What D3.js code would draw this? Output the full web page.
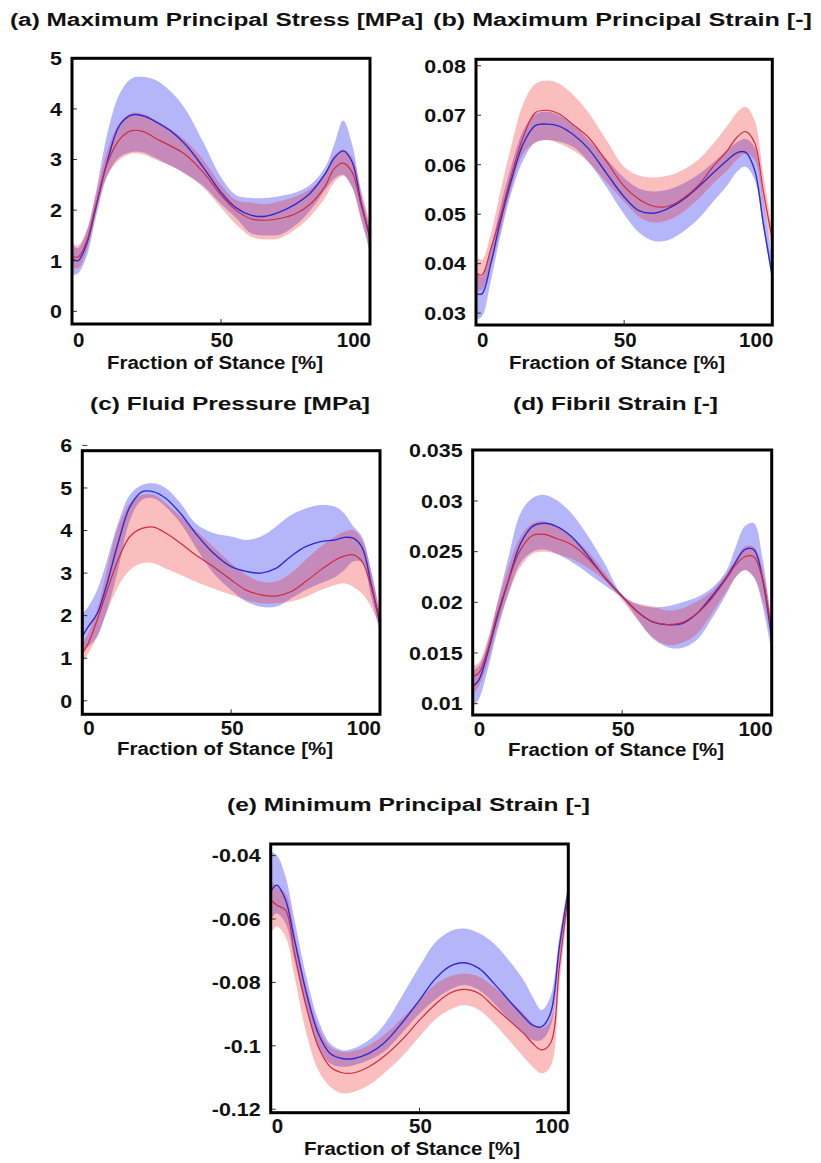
<!DOCTYPE html>
<html><head><meta charset="utf-8">
<script src="https://cdn.jsdelivr.net/npm/d3@7"></script>
<style>
body{margin:0;background:#fff}
svg{display:block}
text{font-family:"Liberation Sans",Arial,Helvetica,sans-serif;font-weight:bold;fill:#111}
</style>
</head><body>
<svg id="chart" width="821" height="1163"></svg>
<script>
// ---- shared x grid (fraction of stance, %) ----
const stance = [0,2,5,8,12,16,20,24,28,33,38,44,50,55,60,65,70,75,80,85,88,91,94,97,100];
const xTicks = [0,50,100];

// ---- (a) Maximum Principal Stress [MPa] ----
const aTicks = [0,1,2,3,4,5];
const aBlueMean  = [1.05,1.0,1.35,2.05,3.0,3.68,3.88,3.86,3.75,3.57,3.3,2.85,2.35,2.05,1.9,1.88,1.97,2.12,2.34,2.72,3.03,3.17,2.95,2.15,1.45];
const aBlueUpper = [1.3,1.25,1.6,2.35,3.55,4.3,4.6,4.63,4.57,4.35,4.0,3.35,2.65,2.3,2.24,2.24,2.28,2.35,2.5,2.85,3.3,3.77,3.3,2.35,1.65];
const aBlueLower = [0.72,0.75,1.1,1.85,2.7,3.05,3.15,3.14,3.03,2.88,2.72,2.48,2.12,1.85,1.55,1.5,1.52,1.7,2.0,2.4,2.62,2.7,2.45,1.85,1.15];
const aRedMean   = [1.1,1.07,1.4,2.1,2.95,3.4,3.57,3.55,3.42,3.27,3.1,2.75,2.3,2.0,1.83,1.8,1.84,1.93,2.12,2.48,2.82,2.93,2.75,2.1,1.5];
const aRedUpper  = [1.35,1.3,1.6,2.3,3.2,3.72,3.92,3.9,3.78,3.6,3.38,3.0,2.5,2.2,2.15,2.12,2.18,2.27,2.42,2.75,3.08,3.2,3.05,2.4,1.75];
const aRedLower  = [0.88,0.85,1.2,1.95,2.7,3.0,3.12,3.1,3.0,2.88,2.72,2.45,2.05,1.72,1.48,1.42,1.45,1.62,1.88,2.25,2.55,2.68,2.45,1.8,1.25];

// ---- (b) Maximum Principal Strain [-] ----
const bTicks = [0.03,0.04,0.05,0.06,0.07,0.08];
const bBlueMean  = [0.034,0.0339,0.04,0.048,0.057,0.0643,0.0679,0.0682,0.0678,0.066,0.0632,0.0583,0.0535,0.0507,0.0502,0.0512,0.053,0.0555,0.0583,0.061,0.0624,0.0625,0.059,0.048,0.0374];
const bBlueUpper = [0.0381,0.0374,0.043,0.051,0.060,0.067,0.0702,0.0707,0.07,0.068,0.065,0.0612,0.0573,0.0552,0.0546,0.055,0.0562,0.058,0.0604,0.063,0.0645,0.0652,0.0636,0.053,0.0408];
const bBlueLower = [0.0287,0.0293,0.0365,0.045,0.0545,0.061,0.0645,0.065,0.0647,0.0635,0.0605,0.0555,0.05,0.0463,0.0446,0.0448,0.0465,0.049,0.0525,0.056,0.0585,0.0596,0.057,0.047,0.0361];
const bRedMean   = [0.0381,0.0377,0.043,0.049,0.058,0.0657,0.0705,0.071,0.0703,0.068,0.0655,0.0607,0.0556,0.053,0.0516,0.0516,0.0532,0.0558,0.0596,0.063,0.0655,0.0667,0.0645,0.0545,0.0448];
const bRedUpper  = [0.0414,0.0408,0.046,0.054,0.064,0.0724,0.0763,0.077,0.0764,0.074,0.0705,0.065,0.0596,0.0578,0.0574,0.0578,0.059,0.061,0.0642,0.068,0.0705,0.0717,0.069,0.058,0.0468];
const bRedLower  = [0.0347,0.0347,0.0395,0.046,0.0555,0.0623,0.0645,0.065,0.0643,0.0628,0.0605,0.0565,0.0525,0.0495,0.0483,0.0488,0.0505,0.053,0.0562,0.059,0.061,0.0622,0.061,0.052,0.0421];

// ---- (c) Fluid Pressure [MPa] ----
const cTicks = [0,1,2,3,4,5,6];
const cBlueMean  = [1.51,1.74,2.05,2.68,3.7,4.56,4.91,4.91,4.76,4.4,3.94,3.47,3.15,3.04,3.0,3.11,3.39,3.62,3.74,3.78,3.84,3.82,3.6,2.75,1.8];
const cBlueUpper = [2.05,2.21,2.6,3.23,4.17,4.84,5.07,5.11,5.0,4.64,4.17,3.94,3.86,3.78,3.86,4.09,4.36,4.52,4.6,4.56,4.4,4.1,3.85,3.05,2.05];
const cBlueLower = [1.19,1.27,1.51,2.05,3.07,4.25,4.72,4.76,4.56,4.17,3.62,3.0,2.6,2.33,2.21,2.21,2.4,2.6,2.76,2.91,3.07,3.27,3.25,2.45,1.6];
const cRedMean   = [1.11,1.35,1.9,2.52,3.31,3.86,4.05,4.08,3.94,3.7,3.43,3.15,2.84,2.6,2.49,2.46,2.56,2.8,3.07,3.31,3.4,3.43,3.27,2.68,1.85];
const cRedUpper  = [1.35,1.58,2.13,2.99,4.09,4.64,4.84,4.84,4.64,4.33,4.01,3.62,3.23,2.96,2.8,2.8,2.99,3.31,3.62,3.86,3.97,4.01,3.78,3.07,2.05];
const cRedLower  = [0.88,1.11,1.51,2.05,2.68,3.07,3.23,3.23,3.11,2.96,2.8,2.64,2.49,2.37,2.29,2.29,2.33,2.44,2.6,2.72,2.76,2.68,2.52,2.21,1.74];

// ---- (d) Fibril Strain [-] ----
const dTicks = [0.01,0.015,0.02,0.025,0.03,0.035];
const dBlueMean  = [0.0117,0.0123,0.015,0.0183,0.0222,0.0258,0.0275,0.0278,0.0275,0.0265,0.0248,0.0225,0.0206,0.0191,0.0181,0.0178,0.0179,0.0189,0.0206,0.0225,0.024,0.0252,0.0252,0.0222,0.0163];
const dBlueUpper = [0.0133,0.0137,0.016,0.0196,0.0245,0.0288,0.0303,0.0306,0.0301,0.0288,0.0268,0.0239,0.0207,0.0198,0.0195,0.0196,0.02,0.0205,0.0214,0.0232,0.0255,0.0275,0.0278,0.0242,0.0176];
const dBlueLower = [0.0097,0.0104,0.0133,0.0169,0.0209,0.0239,0.025,0.0252,0.0248,0.024,0.023,0.0217,0.0204,0.0184,0.0165,0.0156,0.0155,0.0163,0.0184,0.0209,0.0225,0.0232,0.0225,0.0196,0.015];
const dRedMean   = [0.0127,0.013,0.0153,0.0186,0.0222,0.0252,0.0266,0.0267,0.0263,0.0257,0.0245,0.0225,0.0206,0.0191,0.0181,0.0178,0.018,0.0189,0.0204,0.0224,0.0237,0.0245,0.0245,0.0222,0.0169];
const dRedUpper  = [0.0137,0.014,0.0163,0.0196,0.0235,0.0265,0.0278,0.028,0.0275,0.0265,0.0252,0.023,0.0207,0.0199,0.0196,0.0192,0.0194,0.0201,0.0211,0.0229,0.0242,0.0255,0.0255,0.0232,0.0183];
const dRedLower  = [0.011,0.0117,0.014,0.0173,0.0209,0.0235,0.0248,0.025,0.0248,0.0243,0.0235,0.0222,0.0202,0.0183,0.0166,0.0158,0.016,0.0169,0.0189,0.0212,0.0225,0.0232,0.0225,0.0202,0.0163];

// ---- (e) Minimum Principal Strain [-] ----
const eTicks = [-0.12,-0.1,-0.08,-0.06,-0.04];
const eBlueMean  = [-0.0514,-0.0493,-0.054,-0.0666,-0.0834,-0.0961,-0.1024,-0.104,-0.104,-0.1024,-0.0992,-0.0929,-0.0856,-0.0792,-0.075,-0.0738,-0.0756,-0.0803,-0.0856,-0.0908,-0.0935,-0.094,-0.0898,-0.0687,-0.0509];
const eBlueUpper = [-0.0388,-0.0398,-0.0467,-0.0603,-0.0782,-0.0919,-0.0993,-0.1014,-0.1008,-0.0982,-0.0935,-0.0845,-0.075,-0.0677,-0.064,-0.063,-0.0645,-0.0677,-0.073,-0.0793,-0.0845,-0.0887,-0.0845,-0.0656,-0.0488];
const eBlueLower = [-0.0603,-0.0582,-0.0614,-0.073,-0.0887,-0.1003,-0.1056,-0.1066,-0.1061,-0.1045,-0.1019,-0.0961,-0.0898,-0.0856,-0.0824,-0.0808,-0.0824,-0.0866,-0.0919,-0.0961,-0.0982,-0.0982,-0.094,-0.073,-0.053];
const eRedMean   = [-0.054,-0.0556,-0.0572,-0.0708,-0.0877,-0.1003,-0.1066,-0.1085,-0.1085,-0.1066,-0.1034,-0.0982,-0.0919,-0.0872,-0.0835,-0.0822,-0.0835,-0.0877,-0.0919,-0.0961,-0.0992,-0.1013,-0.0992,-0.075,-0.0519];
const eRedUpper  = [-0.0477,-0.0498,-0.0519,-0.0645,-0.0814,-0.094,-0.1003,-0.1019,-0.1016,-0.0998,-0.0966,-0.0914,-0.0856,-0.0808,-0.0782,-0.0772,-0.0782,-0.0814,-0.0856,-0.0898,-0.0929,-0.0945,-0.0919,-0.0708,-0.0498];
const eRedLower  = [-0.0645,-0.0624,-0.0656,-0.0782,-0.0961,-0.1077,-0.1129,-0.115,-0.1145,-0.1124,-0.1087,-0.1035,-0.0971,-0.0919,-0.0887,-0.0871,-0.0887,-0.0929,-0.0982,-0.1035,-0.1066,-0.1087,-0.1066,-0.0814,-0.055];

const titles = ["(a) Maximum Principal Stress [MPa]","(b) Maximum Principal Strain [-]","(c) Fluid Pressure [MPa]","(d) Fibril Strain [-]","(e) Minimum Principal Strain [-]"];
const xTitle = "Fraction of Stance [%]";

// ---- layout (positions only) ----
const panels = [
  {title:titles[0], tx:10,  tw:413, ty:26,  box:[72,58.3,370,324],     yd:[-0.25,5.0],        ticks:aTicks,
   blue:[aBlueMean,aBlueUpper,aBlueLower], red:[aRedMean,aRedUpper,aRedLower], xl:215, xly:369, xty:346.5},
  {title:titles[1], tx:433, tw:379, ty:26,  box:[476,59.3,772.3,325],  yd:[0.0276,0.0813],    ticks:bTicks,
   blue:[bBlueMean,bBlueUpper,bBlueLower], red:[bRedMean,bRedUpper,bRedLower], xl:617, xly:369, xty:347},
  {title:titles[2], tx:90,  tw:280, ty:410, box:[82.3,450.7,380,714.3],yd:[-0.318,5.876],     ticks:cTicks,
   blue:[cBlueMean,cBlueUpper,cBlueLower], red:[cRedMean,cRedUpper,cRedLower], xl:225, xly:755, xty:735},
  {title:titles[3], tx:513, tw:205, ty:410, box:[472.7,450,771.7,715], yd:[0.00888,0.03503],  ticks:dTicks,
   blue:[dBlueMean,dBlueUpper,dBlueLower], red:[dRedMean,dRedUpper,dRedLower], xl:616, xly:756, xty:736},
  {title:titles[4], tx:227, tw:363, ty:811, box:[270.7,844,568.3,1112.7],yd:[-0.1211,-0.03634],ticks:eTicks,
   blue:[eBlueMean,eBlueUpper,eBlueLower], red:[eRedMean,eRedUpper,eRedLower], xl:412, xly:1155, xty:1133}
];

const svg = d3.select("#chart");
const BLUE_FILL = "rgba(60,60,240,0.38)", RED_FILL = "rgba(240,40,40,0.30)";
const BLUE_LINE = "#2b2bd6", RED_LINE = "#cf2a45";

panels.forEach((p, i) => {
  const [x0, y0, x1, y1] = p.box;
  const x = d3.scaleLinear().domain([0,100]).range([x0, x1]);
  const y = d3.scaleLinear().domain(p.yd).range([y1, y0]);
  const g = svg.append("g");

  svg.append("text").attr("x", p.tx).attr("y", p.ty)
    .attr("textLength", p.tw).attr("lengthAdjust","spacingAndGlyphs")
    .style("font-size","18px").text(p.title);

  const clipId = "clip" + i;
  svg.append("clipPath").attr("id", clipId).append("rect")
    .attr("x", x0).attr("y", y0).attr("width", x1 - x0).attr("height", y1 - y0);
  const plot = g.append("g").attr("clip-path", `url(#${clipId})`);

  const curve = d3.curveCatmullRom.alpha(0.5);
  const area = (up, lo) => d3.area().curve(curve)
    .x((d, k) => x(stance[k])).y0((d, k) => y(lo[k])).y1((d, k) => y(up[k]))(stance);
  const line = (m) => d3.line().curve(curve).x((d, k) => x(stance[k])).y((d, k) => y(m[k]))(stance);

  plot.append("path").attr("d", area(p.blue[1], p.blue[2])).attr("fill", BLUE_FILL);
  plot.append("path").attr("d", area(p.red[1], p.red[2])).attr("fill", RED_FILL);
  plot.append("path").attr("d", line(p.blue[0])).attr("fill","none").attr("stroke",BLUE_LINE).attr("stroke-width",1.4);
  plot.append("path").attr("d", line(p.red[0])).attr("fill","none").attr("stroke",RED_LINE).attr("stroke-width",1.2);

  // inward tick marks
  g.selectAll(".yt").data(p.ticks).enter().append("line")
    .attr("x1", x0).attr("x2", x0 + 5).attr("y1", d => y(d)).attr("y2", d => y(d))
    .attr("stroke","#333").attr("stroke-width",1);
  g.append("line").attr("x1", x(50)).attr("x2", x(50)).attr("y1", y1).attr("y2", y1 - 5)
    .attr("stroke","#333").attr("stroke-width",1);

  // frame
  g.append("rect").attr("x", x0).attr("y", y0).attr("width", x1 - x0).attr("height", y1 - y0)
    .attr("fill","none").attr("stroke","#000").attr("stroke-width",3);

  // y tick labels (slightly widened like the reference)
  g.selectAll(".yl").data(p.ticks).enter().append("text")
    .attr("x", x0 - 10).attr("y", d => y(d)).attr("dy","0.36em")
    .attr("text-anchor","end").style("font-size","19px")
    .text(d => String(d))
    .each(function(){
      const w = this.getComputedTextLength();
      d3.select(this).attr("textLength", w * 1.13).attr("lengthAdjust","spacingAndGlyphs");
    });

  // x tick labels
  g.selectAll(".xl").data(xTicks).enter().append("text")
    .attr("x", d => d === 0 ? x0 + 1 : (d === 100 ? x1 + 1 : x(d) + 1))
    .attr("y", p.xty)
    .attr("text-anchor", d => d === 0 ? "start" : (d === 100 ? "end" : "middle"))
    .style("font-size","20.5px").text(d => String(d));

  // x axis title
  g.append("text").attr("x", p.xl - 108).attr("y", p.xly)
    .attr("textLength", 216).attr("lengthAdjust","spacingAndGlyphs")
    .style("font-size","17.5px").text(xTitle);
});
</script>
</body></html>
